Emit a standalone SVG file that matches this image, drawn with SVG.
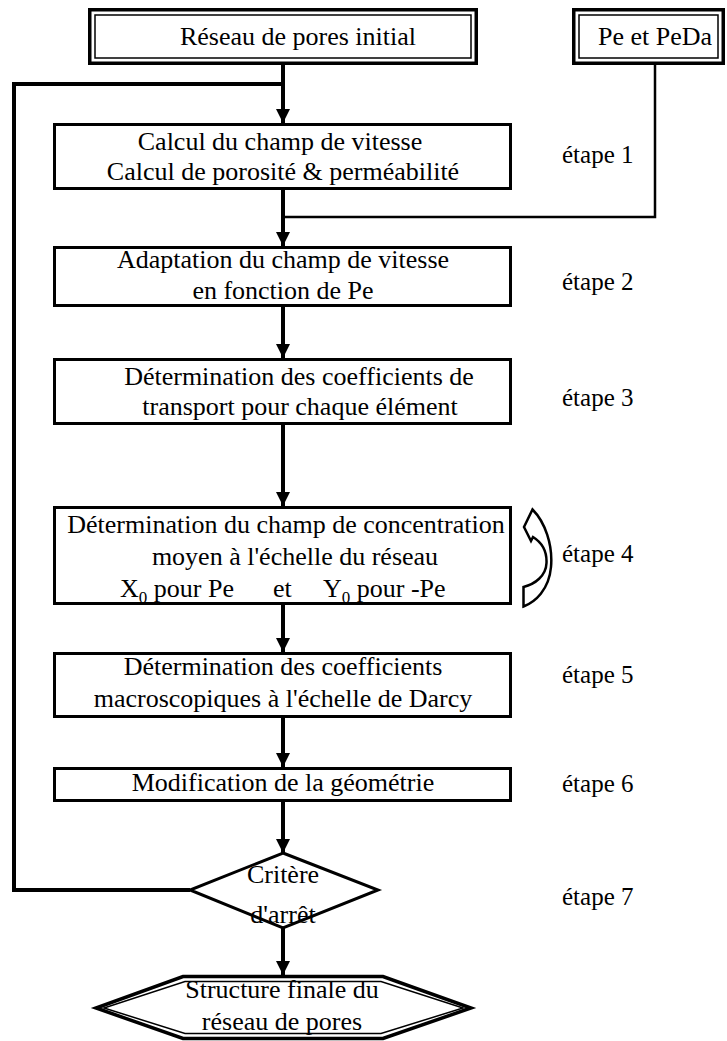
<svg xmlns="http://www.w3.org/2000/svg" width="727" height="1041" viewBox="0 0 727 1041">
<style>
  text { font-family: "Liberation Serif", "Times New Roman", serif; font-size: 26px; fill: #000; }
  .c { text-anchor: middle; }
  .step { font-size: 25px; text-anchor: start; }
  .box { fill: #fff; stroke: #000; stroke-width: 3; }
  .outer { fill: #fff; stroke: #000; stroke-width: 3.5; }
  .inner { fill: none; stroke: #000; stroke-width: 1.5; }
  .flow { fill: none; stroke: #000; stroke-width: 4; }
  .arrow { marker-end: url(#ah); }
  .thin { fill: none; stroke: #000; stroke-width: 2.5; }
  .sub { font-size: 17px; }
</style>
<defs>
  <marker id="ah" markerUnits="userSpaceOnUse" markerWidth="14" markerHeight="14" refX="14" refY="7" orient="auto">
    <path d="M0,0 L14,7 L0,14 Z" fill="#000"/>
  </marker>
</defs>

<g id="connectors">
  <path class="flow" d="M190 890 H14 V84 H283"/>
  <path class="flow arrow" d="M283 65 V123"/>
  <path class="thin" d="M655 65 V217 H283"/>
  <path class="flow arrow" d="M283 190 V246"/>
  <path class="flow arrow" d="M283 307 V358"/>
  <path class="flow arrow" d="M283 425 V506"/>
  <path class="flow arrow" d="M283 605 V652"/>
  <path class="flow arrow" d="M283 718 V767"/>
  <path class="flow arrow" d="M283 802 V853"/>
  <path class="flow arrow" d="M283 928 V975"/>
</g>

<g id="start">
  <rect class="outer" x="89.75" y="9.75" width="386.5" height="53.5"/>
  <rect class="inner" x="95" y="15" width="376" height="43"/>
  <text class="c" x="298" y="45">Réseau de pores initial</text>
</g>

<g id="params">
  <rect class="outer" x="573.75" y="9.75" width="149.5" height="53.5"/>
  <rect class="inner" x="579" y="15" width="139" height="43"/>
  <text class="c" x="655" y="45">Pe et PeDa</text>
</g>

<g id="step1">
  <rect class="box" x="54.5" y="124.5" width="456" height="64"/>
  <text class="c" x="280" y="150">Calcul du champ de vitesse</text>
  <text class="c" x="283" y="180">Calcul de porosité &amp; perméabilité</text>
  <text class="step" x="562" y="163">étape 1</text>
</g>

<g id="step2">
  <rect class="box" x="54.5" y="247.5" width="456" height="58"/>
  <text class="c" x="283" y="268">Adaptation du champ de vitesse</text>
  <text class="c" x="283" y="299">en fonction de Pe</text>
  <text class="step" x="562" y="290">étape 2</text>
</g>

<g id="step3">
  <rect class="box" x="54.5" y="359.5" width="456" height="64"/>
  <text class="c" x="299" y="385">Détermination des coefficients de</text>
  <text class="c" x="300" y="415">transport pour chaque élément</text>
  <text class="step" x="562" y="406">étape 3</text>
</g>

<g id="step4">
  <rect class="box" x="54.5" y="507.5" width="456" height="96"/>
  <text class="c" x="286" y="533">Détermination du champ de concentration</text>
  <text class="c" x="295" y="565">moyen à l'échelle du réseau</text>
  <text x="120" y="597">X<tspan class="sub" dy="6">0</tspan><tspan dy="-6"> pour Pe</tspan></text>
  <text x="273" y="597">et</text>
  <text x="323" y="597">Y<tspan class="sub" dy="6">0</tspan><tspan dy="-6"> pour -Pe</tspan></text>
  <path d="M532.5 509.5 C545 522 553 545 551 567 C549 590 535 602 523.5 606.5 L523.5 587 C535 584 546 576 546.5 563 C547 551 541 542 533 537 L531 541 L524 527 Z" fill="#fff" stroke="#000" stroke-width="2.5" stroke-linejoin="miter"/>
  <text class="step" x="562" y="562">étape 4</text>
</g>

<g id="step5">
  <rect class="box" x="54.5" y="653.5" width="456" height="63"/>
  <text class="c" x="283" y="675">Détermination des coefficients</text>
  <text class="c" x="283" y="707">macroscopiques à l'échelle de Darcy</text>
  <text class="step" x="562" y="683">étape 5</text>
</g>

<g id="step6">
  <rect class="box" x="54.5" y="768.5" width="456" height="32"/>
  <text class="c" x="283" y="791">Modification de la géométrie</text>
  <text class="step" x="562" y="792">étape 6</text>
</g>

<g id="step7">
  <polygon class="box" stroke-width="2.5" points="283,853 378,890 283,928 190,890"/>
  <text class="c" x="283" y="883">Critère</text>
  <text class="c" x="283" y="923">d'arrêt</text>
  <text class="step" x="562" y="905">étape 7</text>
</g>

<g id="end">
  <polygon class="outer" stroke-width="3" points="183,976.5 383,976.5 471,1008 383,1038.5 183,1038.5 96,1008"/>
  <polygon class="inner" points="185,981.5 381,981.5 463,1008 381,1033.5 185,1033.5 104,1008"/>
  <text class="c" x="282" y="998">Structure finale du</text>
  <text class="c" x="282" y="1030">réseau de pores</text>
</g>
</svg>
